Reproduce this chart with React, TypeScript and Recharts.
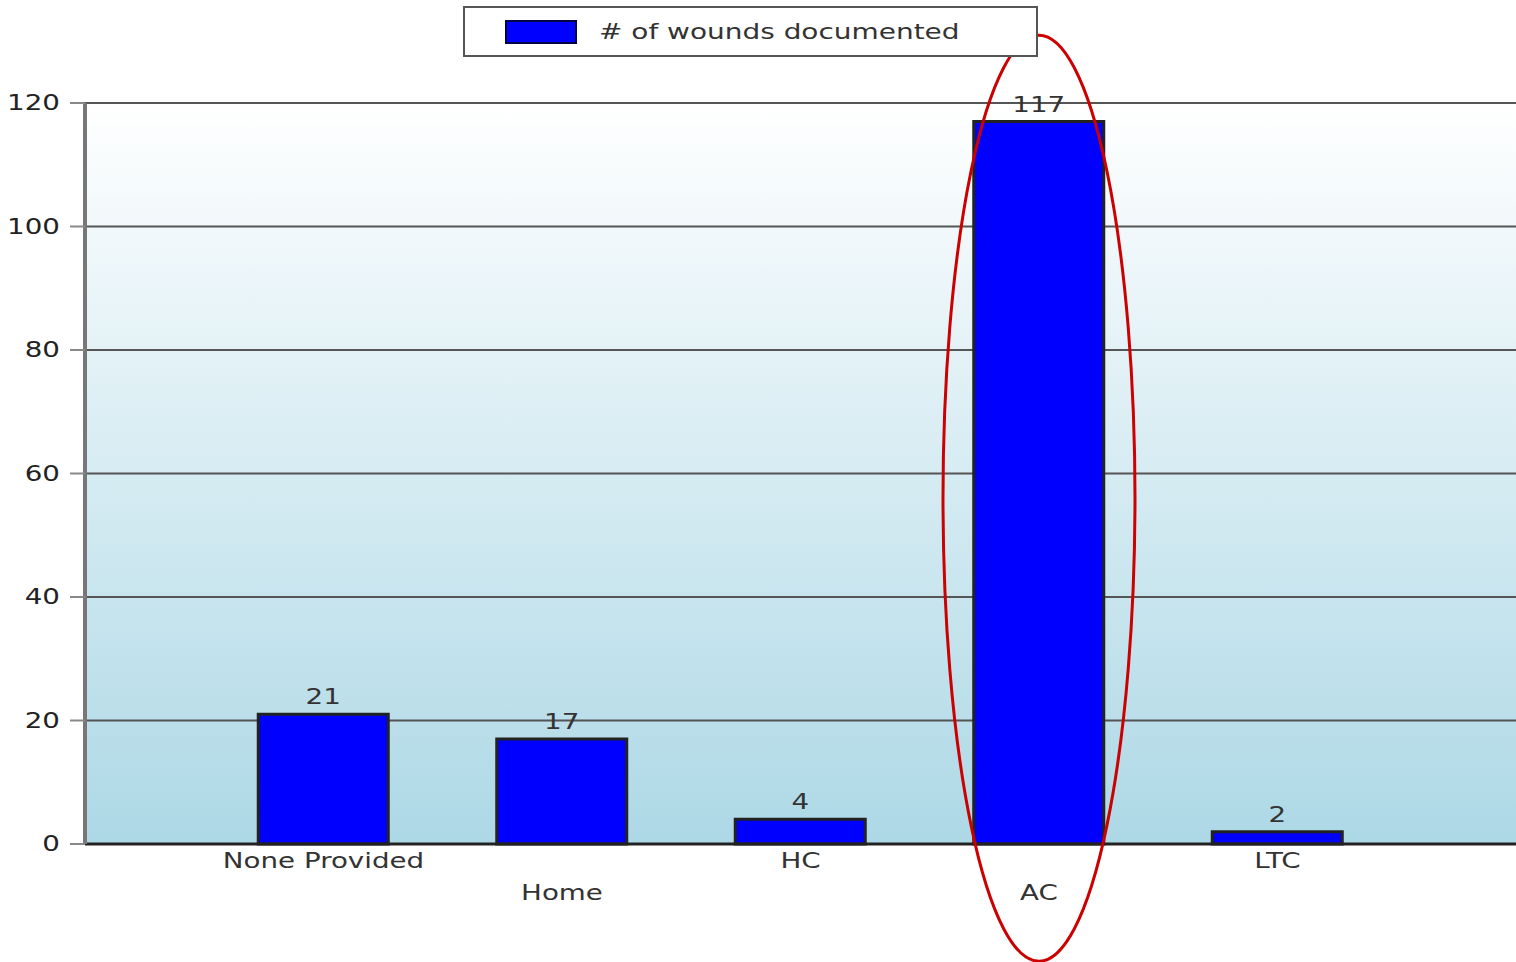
import React from 'react';
import {
  BarChart,
  Bar,
  XAxis,
  YAxis,
  CartesianGrid,
  LabelList,
  ReferenceDot,
} from 'recharts';

const categories = ['None Provided', 'Home', 'HC', 'AC', 'LTC'];
const wounds = [21, 17, 4, 117, 2];
const yTicks = [0, 20, 40, 60, 80, 100, 120];
const seriesName = '# of wounds documented';

const data = categories.map((name, i) => ({
  pos: i + 1,
  name,
  wounds: wounds[i],
}));

const FONT = '"DejaVu Sans", Verdana, sans-serif';
const STRETCH = 1.32; // the original text is wide, like a stretched Verdana

// labels alternate between two rows like the original
const XTick = (props: any) => {
  const { x, y, payload } = props;
  const idx = payload.value - 1;
  const label = categories[idx];
  if (!label) return null;
  const dy = idx % 2 === 0 ? 16 : 48;
  return (
    <g transform={`translate(${x},${y + dy}) scale(${STRETCH},1)`}>
      <text x={0} y={0} textAnchor="middle" fill="#333" fontSize={21} fontFamily={FONT}>
        {label}
      </text>
    </g>
  );
};

const YTick = (props: any) => {
  const { x, y, payload } = props;
  return (
    <g transform={`translate(${x},${y}) scale(${STRETCH},1)`}>
      <text x={0} y={0} dy={7} textAnchor="end" fill="#222" fontSize={21} fontFamily={FONT}>
        {payload.value}
      </text>
    </g>
  );
};

const TopLabel = (props: any) => {
  const { x, y, width, value } = props;
  return (
    <g transform={`translate(${x + width / 2},${y - 10}) scale(${STRETCH},1)`}>
      <text x={0} y={0} textAnchor="middle" fill="#333" fontSize={21} fontFamily={FONT}>
        {value}
      </text>
    </g>
  );
};

const Ellipse = (props: any) => (
  <ellipse cx={props.cx} cy={props.cy} rx={96} ry={463} fill="none" stroke="#cc0000" strokeWidth={3} />
);

export default function App() {
  return (
    <div style={{ position: 'absolute', left: 0, top: 0, width: 1516, height: 962 }}>
      <BarChart width={1516} height={962} data={data} margin={{ top: 103, right: 0, bottom: 88, left: 0 }}>
        <defs>
          <linearGradient id="bg" x1="0" y1="0" x2="0" y2="1">
            <stop offset="0%" stopColor="#ffffff" />
            <stop offset="100%" stopColor="#add8e6" />
          </linearGradient>
        </defs>
        <CartesianGrid vertical={false} stroke="#555" strokeWidth={2} fill="url(#bg)" fillOpacity={1} />
        <XAxis
          dataKey="pos"
          type="number"
          domain={[0, 6]}
          ticks={[1, 2, 3, 4, 5]}
          height={30}
          tick={<XTick />}
          tickLine={false}
          axisLine={{ stroke: '#222', strokeWidth: 3 }}
        />
        <YAxis
          width={85}
          domain={[0, 120]}
          ticks={yTicks}
          tickSize={15}
          tickMargin={10}
          tickLine={{ stroke: '#888', strokeWidth: 2 }}
          axisLine={{ stroke: '#777', strokeWidth: 4 }}
          tick={<YTick />}
        />
        <Bar
          dataKey="wounds"
          name={seriesName}
          fill="#0000ff"
          stroke="#222"
          strokeWidth={3}
          barSize={130}
          isAnimationActive={false}
        >
          <LabelList dataKey="wounds" content={<TopLabel />} />
        </Bar>
        <ReferenceDot x={4} y={56} ifOverflow="visible" shape={<Ellipse />} />
      </BarChart>
      <div
        style={{
          position: 'absolute',
          left: 463,
          top: 6,
          width: 571,
          height: 47,
          border: '2px solid #555',
          background: '#fff',
          display: 'flex',
          alignItems: 'center',
          fontFamily: FONT,
          fontSize: 22,
          color: '#333',
        }}
      >
        <div style={{ width: 68, height: 20, background: '#0000ff', border: '2px solid #000044', marginLeft: 40, marginRight: 22 }} />
        <span style={{ display: 'inline-block', transform: `scaleX(1.27)`, transformOrigin: 'left center' }}>
          {seriesName}
        </span>
      </div>
    </div>
  );
}
